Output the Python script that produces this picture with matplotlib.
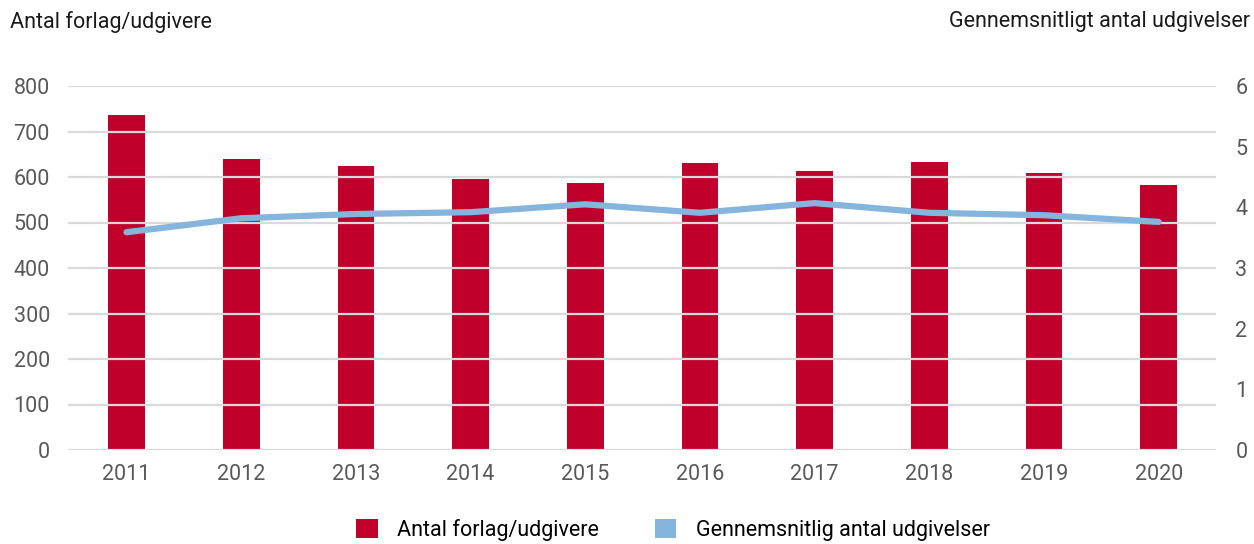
import numpy as np
import matplotlib
matplotlib.use('Agg')
import matplotlib.pyplot as plt
from matplotlib.patches import Patch

plt.rcParams['font.family'] = ['Roboto', 'DejaVu Sans']

# data
years = ['2011', '2012', '2013', '2014', '2015', '2016', '2017', '2018', '2019', '2020']
publishers = [736, 640, 624, 596, 587, 631, 613, 633, 609, 582]
avg_releases = [3.59, 3.82, 3.89, 3.92, 4.05, 3.91, 4.07, 3.91, 3.87, 3.76]

left_ticks = [0, 100, 200, 300, 400, 500, 600, 700, 800]
right_ticks = [0, 1, 2, 3, 4, 5, 6]

bar_color = '#c0002b'
line_color = '#85b4dd'
tick_color = '#595959'
grid_color = '#d9d9d9'
fs = 15.5

fig = plt.figure(figsize=(12.54, 5.44), dpi=100)
ax = fig.add_axes([68 / 1254, 94 / 544, (1216 - 68) / 1254, 364 / 544])
ax2 = ax.twinx()

x = np.arange(len(years))
ax.bar(x, publishers, width=0.32, color=bar_color, zorder=2)
ax2.plot(x, avg_releases, color=line_color, linewidth=4.5,
         solid_capstyle='round', solid_joinstyle='round', zorder=3)

ax.set_xlim(-0.51, 9.5)
ax.set_ylim(0, 800)
ax2.set_ylim(0, 6)
ax.set_yticks(left_ticks)
ax2.set_yticks(right_ticks)
ax.set_xticks(x)
ax.set_xticklabels(years)

# gridlines drawn over the bars
for v in left_ticks:
    ax.axhline(v, color=grid_color, linewidth=1.6, zorder=2.5)

for a in (ax, ax2):
    for s in a.spines.values():
        s.set_visible(False)
    a.tick_params(length=0, labelsize=fs, labelcolor=tick_color)
ax.tick_params(axis='y', pad=13)
ax2.tick_params(axis='y', pad=14)
ax.tick_params(axis='x', pad=10)

fig.text(10 / 1254, 1 - 22 / 544, 'Antal forlag/udgivere', ha='left', va='center',
         fontsize=fs, color='#1a1a1a')
fig.text(1250 / 1254, 1 - 22 / 544, 'Gennemsnitligt antal udgivelser', ha='right',
         va='center', fontsize=fs, color='#1a1a1a')

handles = [Patch(facecolor=bar_color, edgecolor='none'),
           Patch(facecolor=line_color, edgecolor='none')]
fig.legend(handles, ['Antal forlag/udgivere', 'Gennemsnitlig antal udgivelser'],
           loc='center', bbox_to_anchor=(673 / 1254, 1 - 530 / 544), ncol=2,
           frameon=False, fontsize=fs, handlelength=1.0, handleheight=1.0,
           handletextpad=0.9, columnspacing=2.6, borderpad=0.1)

fig.savefig('out.png', dpi=100)
